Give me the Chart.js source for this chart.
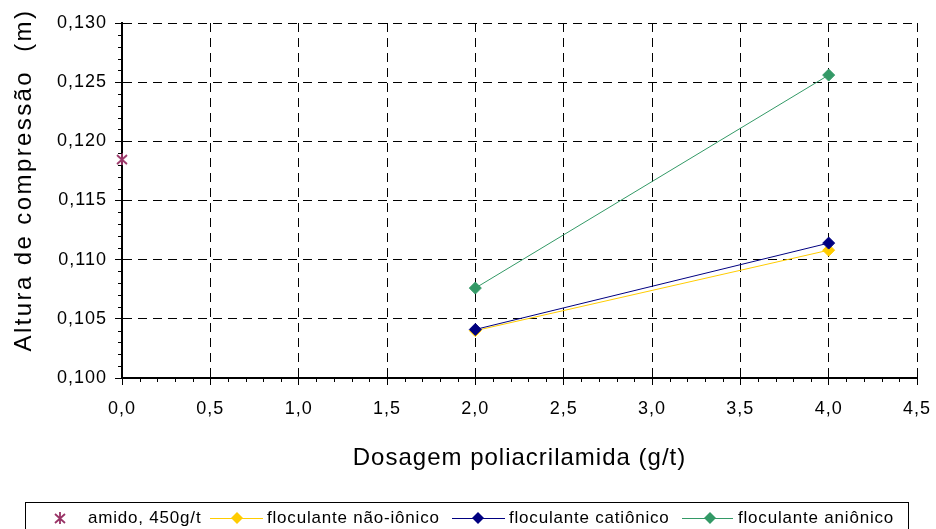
<!DOCTYPE html>
<html>
<head>
<meta charset="utf-8">
<script src="https://cdn.jsdelivr.net/npm/chart.js@4/dist/chart.umd.min.js"></script>
<style>
  body { margin: 0; background: #fff; }
  #wrap { width: 936px; height: 529px; }
</style>
</head>
<body>
<div id="wrap"><canvas id="chart"></canvas></div>
<script>
// Dados
const doseAmido = [0.0];
const alturaAmido = [0.1185];
const doses = [2.0, 4.0];
const naoIonico = [0.1040, 0.1108];
const cationico = [0.1041, 0.1114];
const anionico = [0.1076, 0.1256];

const xTicks = [0, 0.5, 1, 1.5, 2, 2.5, 3, 3.5, 4, 4.5];
const legendLabels = ['amido, 450g/t', 'floculante não-iônico', 'floculante catiônico', 'floculante aniônico'];
const xTitle = 'Dosagem poliacrilamida (g/t)';
const yTitle = 'Altura de compressão  (m)';

const FONT = "'Liberation Sans', Arial, sans-serif";

// marcador estrela (X + barra vertical), como no Excel
function starCanvas(color) {
    const c = document.createElement('canvas');
    c.width = 14; c.height = 14;
    const g = c.getContext('2d');
    g.strokeStyle = color;
    g.lineWidth = 1.8;
    g.beginPath();
    g.moveTo(2, 3); g.lineTo(12, 12);
    g.moveTo(12, 3); g.lineTo(2, 12);
    g.moveTo(7, 1); g.lineTo(7, 13);
    g.stroke();
    return c;
}
const star = starCanvas('#993366');

const pts = (xs, ys) => xs.map((x, i) => ({ x: x, y: ys[i] }));

function serie(label, xs, ys, color, order) {
    return {
        label: label,
        data: pts(xs, ys),
        showLine: true,
        borderColor: color,
        backgroundColor: color,
        borderWidth: 1,
        pointStyle: 'rectRot',
        pointRadius: 6,
        pointBorderWidth: 1,
        order: order
    };
}

const extras = {
    id: 'extras',
    beforeDraw(chart) {
        chart.ctx.letterSpacing = '1px';
    },
    afterDraw(chart) {
        const ctx = chart.ctx;
        const xs = chart.scales.x, ys = chart.scales.y;
        const area = chart.chartArea;
        ctx.save();
        // ticks menores
        ctx.strokeStyle = '#000';
        ctx.lineWidth = 1;
        ctx.beginPath();
        for (let i = 0; i <= 30; i++) {
            if (i % 5 === 0) continue;
            const py = Math.round(ys.getPixelForValue(0.1 + i * 0.001)) + 0.5;
            ctx.moveTo(area.left - 4, py); ctx.lineTo(area.left, py);
        }
        for (let i = 0; i <= 45; i++) {
            if (i % 5 === 0) continue;
            const px = Math.round(xs.getPixelForValue(i * 0.1)) + 0.5;
            ctx.moveTo(px, area.bottom); ctx.lineTo(px, area.bottom + 4);
        }
        ctx.stroke();

        // títulos dos eixos
        ctx.fillStyle = '#000';
        ctx.font = '24px ' + FONT;
        ctx.textAlign = 'center';
        ctx.textBaseline = 'middle';
        ctx.letterSpacing = '1px';
        ctx.fillText(xTitle, (area.left + area.right) / 2, 458);
        ctx.save();
        ctx.translate(24, 180);
        ctx.rotate(-Math.PI / 2);
        ctx.letterSpacing = '2.4px';
        ctx.fillText(yTitle, 0, 0);
        ctx.restore();

        // legenda
        ctx.textAlign = 'left';
        ctx.letterSpacing = '0.8px';
        ctx.strokeStyle = '#000';
        ctx.strokeRect(25.5, 502.5, 883, 40);
        const cy = 518;
        ctx.font = '17px ' + FONT;
        ctx.drawImage(star, 60 - 7, cy - 7);
        ctx.fillText(legendLabels[0], 88, cy);
        const items = [
            { x0: 210, x1: 263, m: 237, t: 267, c: '#FFCC00', l: legendLabels[1] },
            { x0: 452, x1: 505, m: 478, t: 509, c: '#000080', l: legendLabels[2] },
            { x0: 682, x1: 733, m: 710, t: 738, c: '#339966', l: legendLabels[3] }
        ];
        items.forEach(it => {
            ctx.strokeStyle = it.c;
            ctx.beginPath();
            ctx.moveTo(it.x0, cy + 0.5); ctx.lineTo(it.x1, cy + 0.5);
            ctx.stroke();
            ctx.fillStyle = it.c;
            ctx.beginPath();
            ctx.moveTo(it.m, cy - 6); ctx.lineTo(it.m + 6, cy);
            ctx.lineTo(it.m, cy + 6); ctx.lineTo(it.m - 6, cy);
            ctx.closePath();
            ctx.fill();
            ctx.fillStyle = '#000';
            ctx.fillText(it.l, it.t, cy);
        });
        ctx.restore();
        ctx.letterSpacing = '0px';
    }
};

const gridOpts = {
    color: '#000',
    lineWidth: 1,
    tickLength: 7,
    tickColor: '#000',
    tickBorderDash: []
};

new Chart(document.getElementById('chart'), {
    type: 'scatter',
    data: {
        datasets: [
            {
                label: legendLabels[0],
                data: pts(doseAmido, alturaAmido),
                pointStyle: star,
                borderColor: '#993366',
                backgroundColor: '#993366',
                clip: false,
                order: 0
            },
            serie(legendLabels[1], doses, naoIonico, '#FFCC00', 2),
            serie(legendLabels[2], doses, cationico, '#000080', 1),
            serie(legendLabels[3], doses, anionico, '#339966', 2)
        ]
    },
    options: {
        responsive: true,
        maintainAspectRatio: false,
        animation: false,
        layout: { padding: { top: 23, right: 19, left: 0, bottom: 0 } },
        plugins: {
            legend: { display: false },
            tooltip: { enabled: false }
        },
        scales: {
            x: {
                type: 'linear',
                min: 0,
                max: 4.5,
                afterFit: s => { s.height = 151; s.paddingLeft = 0; s.paddingRight = 0; },
                afterBuildTicks: s => { s.ticks = xTicks.map(v => ({ value: v })); },
                ticks: {
                    color: '#000',
                    padding: 13,
                    font: { family: FONT, size: 18 },
                    callback: v => v.toFixed(1).replace('.', ',')
                },
                grid: gridOpts,
                border: { display: true, color: '#000', width: 2, dash: [9, 6] }
            },
            y: {
                min: 0.1,
                max: 0.13,
                afterFit: s => { s.width = 122; s.paddingTop = 0; s.paddingBottom = 0; },
                ticks: {
                    stepSize: 0.005,
                    color: '#000',
                    padding: 8,
                    font: { family: FONT, size: 18 },
                    callback: v => v.toFixed(3).replace('.', ',')
                },
                grid: gridOpts,
                border: { display: true, color: '#000', width: 2, dash: [9, 6] }
            }
        }
    },
    plugins: [extras]
});
</script>
</body>
</html>
